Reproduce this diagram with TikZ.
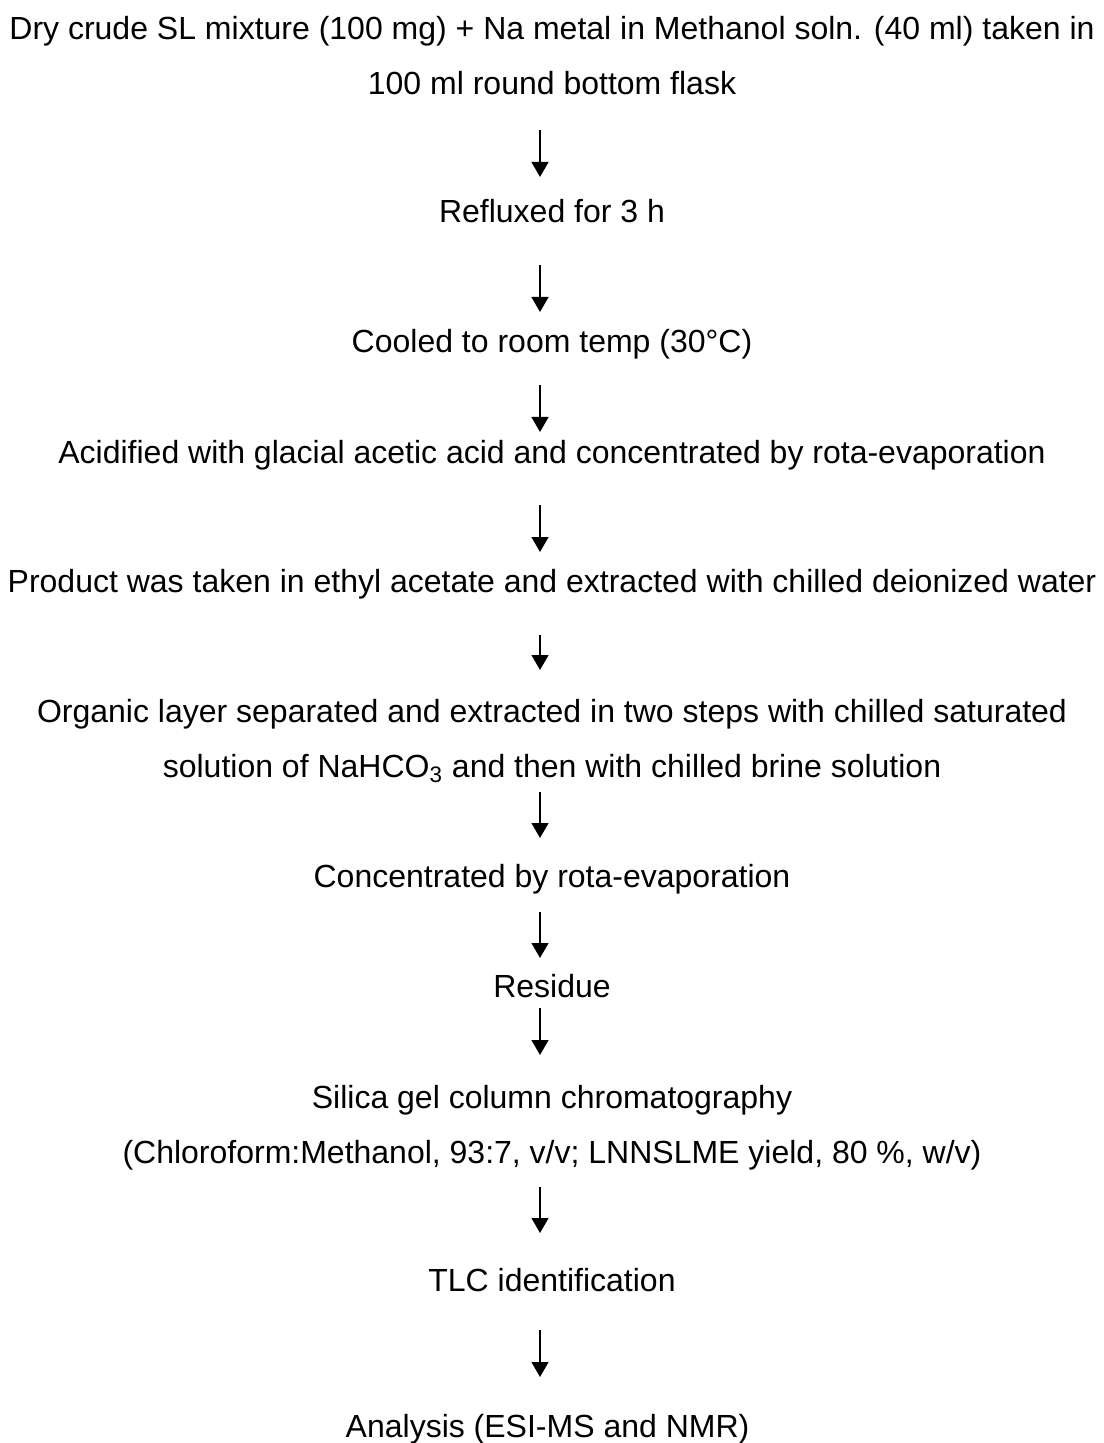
\documentclass[tikz,border=0pt]{standalone}
\usepackage{fontspec}
\setmainfont{Liberation Sans}
\usetikzlibrary{arrows.meta}

\begin{document}
\begin{tikzpicture}
		[
			x=0.5pt, y=-0.5pt,
			stage/.style={anchor=base, inner sep=0pt, align=center, font=\fontsize{16}{27.5}\selectfont},
			flow/.style={line width=1pt, -{Triangle[length=7.5pt, width=8.4pt]}},
		]

		\useasboundingbox (0,0) rectangle (1103,1443);
		\coordinate (axis) at (540,0);

		% Stages
		\foreach \name/\y/\text in
		{
			1/95/{Dry crude SL mixture (100 mg) + Na metal in Methanol soln. (40 ml) taken in\\100 ml round bottom flask},
			2/223/{Refluxed for 3 h},
			3/353/{Cooled to room temp (30°C)},
			4/463/{Acidified with glacial acetic acid and concentrated by rota-evaporation},
			5/592/{Product was taken in ethyl acetate and extracted with chilled deionized water},
			6/777/{Organic layer separated and extracted in two steps with chilled saturated\\solution of NaHCO\textsubscript{3} and then with chilled brine solution},
			7/887/{Concentrated by rota-evaporation},
			8/997/{Residue},
			9/1163/{Silica gel column chromatography\\(Chloroform:Methanol, 93:7, v/v; LNNSLME yield, 80 \%, w/v)},
			10/1291/{TLC identification},
			11/1437/{Analysis (ESI-MS and NMR)}
		}
			\node[stage] (\name) at (552,\y) {\text};

		% Arrows
		\foreach \u/\v/\a/\b in
		{
			1/2/17.5pt/23pt,
			2/3/21pt/20.5pt,
			3/4/16pt/15.5pt,
			4/5/21pt/20pt,
			5/6/21.5pt/53.5pt,
			6/7/7.5pt/24.5pt,
			7/8/12.5pt/19.5pt,
			8/9/5.5pt/54pt,
			9/10/12pt/29pt,
			10/11/19.5pt/30pt
		}
			\draw[flow, shorten <=\a, shorten >=\b] (\u.base -| axis) -- (\v.base -| axis);

\end{tikzpicture}
\end{document}
